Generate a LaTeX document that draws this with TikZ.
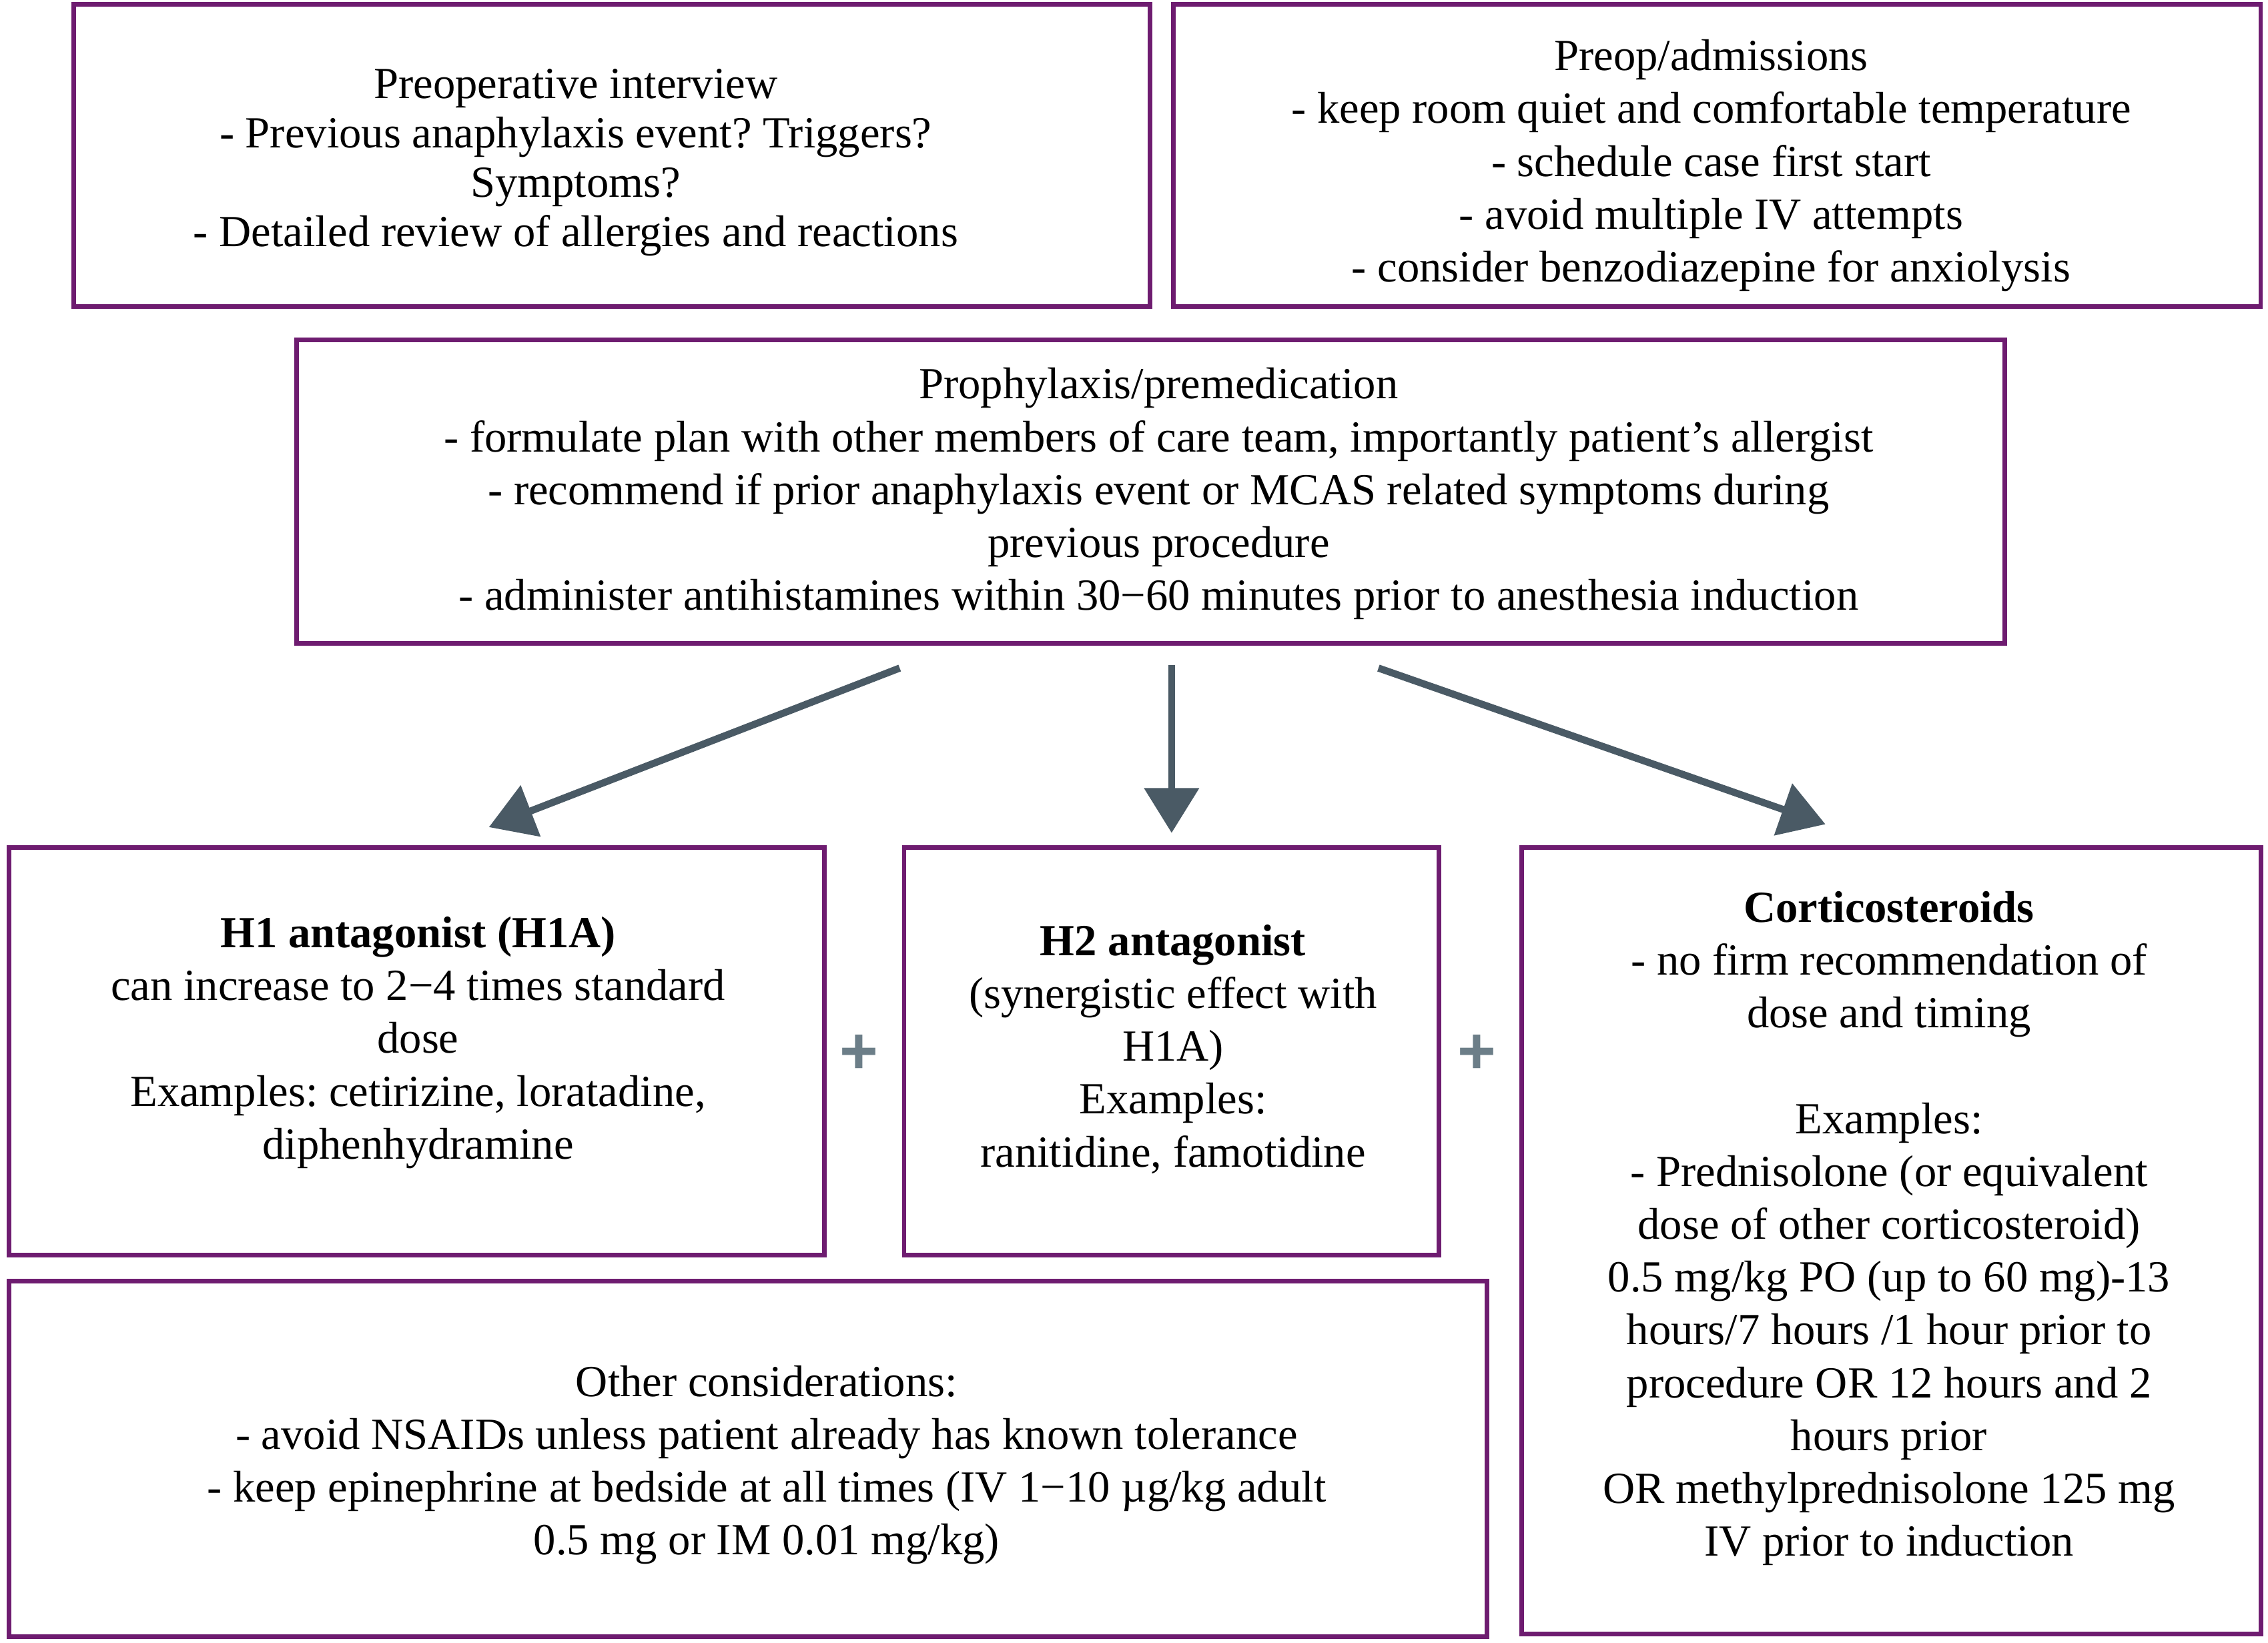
\documentclass[tikz,border=0pt]{standalone}
\usepackage{fontspec}
\setmainfont{Liberation Serif}
\setsansfont{Liberation Sans}
\usetikzlibrary{arrows.meta}
\definecolor{boxc}{RGB}{110,28,112}
\definecolor{arrc}{RGB}{74,90,101}
\definecolor{plusc}{RGB}{108,126,136}
\frenchspacing
\begin{document}
\begin{tikzpicture}[x=0.02cm,y=-0.02cm,
  box/.style={draw=boxc,line width=1.8pt,inner sep=0pt,fill=white},
  txt/.style={align=center,inner sep=0pt,font=\fontsize{17.5}{20.8}\selectfont},
  arr/.style={draw=arrc,line width=2.8pt,-{Triangle[length=0.62cm,width=0.74cm]}},
  plussign/.style={text=plusc,font=\sffamily\bfseries\fontsize{26}{26}\selectfont,inner sep=0pt}]
\useasboundingbox[fill=white] (0,0) rectangle (1568,1136);

% boxes
\node[box,minimum width=14.88cm,minimum height=4.18cm] (pre) at (423,107.5) {};
\node[box,minimum width=15.04cm,minimum height=4.18cm] (adm) at (1187,107.5) {};
\node[box,minimum width=23.62cm,minimum height=4.2cm] (pro) at (795.5,340) {};
\node[box,minimum width=11.28cm,minimum height=5.64cm] (h1) at (288,727) {};
\node[box,minimum width=7.4cm,minimum height=5.64cm] (h2) at (810,727) {};
\node[box,minimum width=10.22cm,minimum height=10.88cm] (cor) at (1307.5,858) {};
\node[box,minimum width=20.44cm,minimum height=4.92cm] (oth) at (517,1009) {};

% texts
\node[txt,font=\fontsize{17.5}{19.4}\selectfont] (preT) at (398,112.5) {Preoperative interview\\
- Previous anaphylaxis event? Triggers?\\
Symptoms?\\
- Detailed review of allergies and reactions};

\node[txt] (admT) at (1183,114.5) {Preop/admissions\\
- keep room quiet and comfortable temperature\\
- schedule case first start\\
- avoid multiple IV attempts\\
- consider benzodiazepine for anxiolysis};

\node[txt] (proT) at (801,341.5) {Prophylaxis/premedication\\
- formulate plan with other members of care team, importantly patient{\char"27}s allergist\\
- recommend if prior anaphylaxis event or MCAS related symptoms during\\
previous procedure\\
- administer antihistamines within 30−60 minutes prior to anesthesia induction};

\node[txt] (h1T) at (289,721) {\textbf{H1 antagonist (H1A)}\\
can increase to 2−4 times standard\\
dose\\
Examples: cetirizine, loratadine,\\
diphenhydramine};

\node[txt] (h2T) at (811,725.5) {\textbf{H2 antagonist}\\
(synergistic effect with\\
H1A)\\
Examples:\\
ranitidine, famotidine};

\node[txt] (corT) at (1306,849.5) {\textbf{Corticosteroids}\\
- no firm recommendation of\\
dose and timing\\[20.8pt]
Examples:\\
- Prednisolone (or equivalent\\
dose of other corticosteroid)\\
0.5 mg/kg PO (up to 60 mg)-13\\
hours/7 hours /1 hour prior to\\
procedure OR 12 hours and 2\\
hours prior\\
OR methylprednisolone 125 mg\\
IV prior to induction};

\node[txt] (othT) at (530,1013) {Other considerations:\\
- avoid NSAIDs unless patient already has known tolerance\\
- keep epinephrine at bedside at all times (IV 1−10 µg/kg adult\\
0.5 mg or IM 0.01 mg/kg)};

% arrows
\coordinate (aLs) at (622,462);
\coordinate (aLe) at (338,572);
\coordinate (aMs) at (810,460);
\coordinate (aMe) at (810,576);
\coordinate (aRs) at (953,462);
\coordinate (aRe) at (1262,570);
\draw[arr] (aLs) -- (aLe);
\draw[arr] (aMs) -- (aMe);
\draw[arr] (aRs) -- (aRe);

% plus signs
\node[plussign] (p1) at (594,729) {+};
\node[plussign] (p2) at (1021,729) {+};
\end{tikzpicture}
\end{document}
